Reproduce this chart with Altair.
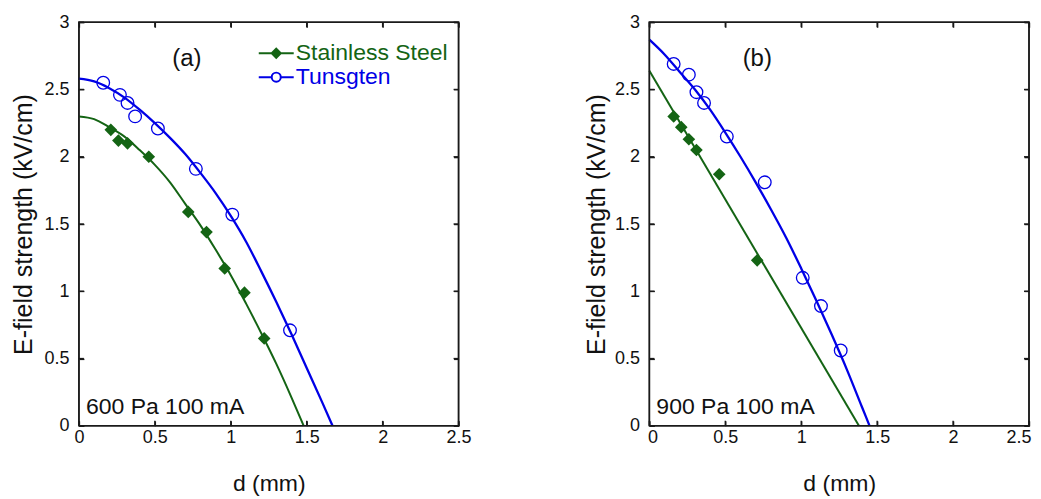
import altair as alt
import pandas as pd

series = ["Stainless Steel", "Tunsgten"]
x_ticks = [0, 0.5, 1, 1.5, 2, 2.5]
y_ticks = [0, 0.5, 1, 1.5, 2, 2.5, 3]

# ---- panel (a): 600 Pa 100 mA ----
a_ss_d = [0.21, 0.26, 0.32, 0.46, 0.72, 0.84, 0.96, 1.09, 1.22]
a_ss_e = [2.20, 2.12, 2.10, 2.00, 1.59, 1.44, 1.17, 0.99, 0.65]
a_w_d = [0.16, 0.27, 0.32, 0.37, 0.52, 0.77, 1.01, 1.39]
a_w_e = [2.55, 2.46, 2.40, 2.30, 2.21, 1.91, 1.57, 0.71]
a_ss_fit_d = [0, 0.1, 0.2, 0.3, 0.4, 0.5, 0.6, 0.7, 0.8, 0.9, 1.0, 1.1, 1.2, 1.3, 1.4, 1.48]
a_ss_fit_e = [2.30, 2.28, 2.22, 2.15, 2.05, 1.94, 1.81, 1.65, 1.49, 1.31, 1.12, 0.91, 0.69, 0.46, 0.21, 0.0]
a_w_fit_d = [0, 0.1, 0.2, 0.3, 0.4, 0.5, 0.6, 0.7, 0.8, 0.9, 1.0, 1.1, 1.2, 1.3, 1.4, 1.5, 1.6, 1.67]
a_w_fit_e = [2.58, 2.56, 2.51, 2.44, 2.35, 2.25, 2.14, 2.02, 1.88, 1.73, 1.56, 1.37, 1.15, 0.92, 0.68, 0.43, 0.18, 0.0]

# ---- panel (b): 900 Pa 100 mA ----
b_ss_d = [0.16, 0.21, 0.26, 0.31, 0.46, 0.71]
b_ss_e = [2.30, 2.22, 2.13, 2.05, 1.87, 1.23]
b_w_d = [0.16, 0.26, 0.31, 0.36, 0.51, 0.76, 1.01, 1.13, 1.26]
b_w_e = [2.69, 2.61, 2.48, 2.40, 2.15, 1.81, 1.10, 0.89, 0.56]
b_ss_fit_d = [0, 1.38]
b_ss_fit_e = [2.64, 0.0]
b_w_fit_d = [0, 0.1, 0.2, 0.3, 0.4, 0.5, 0.6, 0.7, 0.8, 0.9, 1.0, 1.1, 1.2, 1.3, 1.4, 1.45]
b_w_fit_e = [2.87, 2.76, 2.63, 2.50, 2.35, 2.18, 2.00, 1.81, 1.61, 1.40, 1.17, 0.93, 0.68, 0.42, 0.14, 0.0]

tags = ["(a)", "(b)"]
conditions = ["600 Pa 100 mA", "900 Pa 100 mA"]

GREEN = "#146414"
BLUE = "#0000e6"
FRAME = "#1a1a1a"
TXT = "#111111"
FONT = "Liberation Sans"
W, H = 380, 404

# legend symbols: line with marker
P_SS = "M-1,0H1M0,-0.26L0.26,0L0,0.26L-0.26,0Z"
P_W = "M-1,0H-0.26M0.26,0H1M-0.26,0A0.26,0.26,0,1,1,0.26,0A0.26,0.26,0,1,1,-0.26,0Z"


def df(d, e, s):
    return pd.DataFrame({"d": d, "E": e, "series": s})


def panel(ss_d, ss_e, w_d, w_e, ssf_d, ssf_e, wf_d, wf_e, tag, cond, ytp, xtp, second):
    xs = alt.Scale(domain=[0, 2.5], nice=False, zero=False)
    ys = alt.Scale(domain=[0, 3], nice=False, zero=False)
    tk = dict(offset=-5, ticks=True, tickSize=5, domain=False, grid=False,
              tickColor=FRAME, tickWidth=1.4, labelFont=FONT, titleFont=FONT)
    flush = dict(labelFlush=True, labelFlushOffset=2) if second else dict(labelFlush=False)
    x_bot = alt.X("d:Q", scale=xs, axis=alt.Axis(
        orient="bottom", values=x_ticks, format="~g", labelPadding=3,
        labelFontSize=18, labelColor=TXT, title="d (mm)", titleFontSize=23,
        titlePadding=xtp, titleFontWeight="normal", titleColor=TXT, **flush, **tk))
    y_left = alt.Y("E:Q", scale=ys, axis=alt.Axis(
        orient="left", values=y_ticks, format="~g", labelPadding=10,
        labelFontSize=18, labelColor=TXT, title="E-field strength (kV/cm)",
        titleFontSize=25, titlePadding=ytp, titleFontWeight="normal",
        titleColor=TXT, labelFlush=False, **tk))
    x_top = alt.X("d:Q", scale=xs, axis=alt.Axis(
        orient="top", values=x_ticks, labels=False, title=None, **tk))
    y_right = alt.Y("E:Q", scale=ys, axis=alt.Axis(
        orient="right", values=y_ticks, labels=False, title=None, **tk))
    xn = alt.X("d:Q", scale=xs, axis=None)
    yn = alt.Y("E:Q", scale=ys, axis=None)

    # plot frame drawn as a closed line through the axis-range corners
    fr = pd.DataFrame({
        "d": [x_ticks[0], x_ticks[-1], x_ticks[-1], x_ticks[0], x_ticks[0]],
        "E": [y_ticks[0], y_ticks[0], y_ticks[-1], y_ticks[-1], y_ticks[0]],
        "o": [0, 1, 2, 3, 4]})
    frame = alt.Chart(fr).mark_line(color=FRAME, strokeWidth=1.5).encode(
        x=xn, y=yn, order="o:Q")
    xt = pd.DataFrame({"v": x_ticks})
    yt = pd.DataFrame({"v": y_ticks})
    tb = alt.Chart(xt).mark_tick(orient="vertical", size=5, thickness=1.4, color=FRAME, opacity=1).encode(
        x=alt.X("v:Q", scale=xs, axis=None), y=alt.value(H - 2.5))
    tt = alt.Chart(xt).mark_tick(orient="vertical", size=5, thickness=1.4, color=FRAME, opacity=1).encode(
        x=alt.X("v:Q", scale=xs, axis=None), y=alt.value(2.5))
    tl = alt.Chart(yt).mark_tick(orient="horizontal", size=5, thickness=1.4, color=FRAME, opacity=1).encode(
        y=alt.Y("v:Q", scale=ys, axis=None), x=alt.value(2.5))
    tr = alt.Chart(yt).mark_tick(orient="horizontal", size=5, thickness=1.4, color=FRAME, opacity=1).encode(
        y=alt.Y("v:Q", scale=ys, axis=None), x=alt.value(W - 2.5))

    l_ss = alt.Chart(df(ssf_d, ssf_e, series[0])).mark_line(
        color=GREEN, strokeWidth=2, interpolate="monotone").encode(x=x_bot, y=y_left)
    l_w = alt.Chart(df(wf_d, wf_e, series[1])).mark_line(
        color=BLUE, strokeWidth=2.3, interpolate="monotone").encode(x=x_top, y=y_right)
    p_ss = alt.Chart(df(ss_d, ss_e, series[0])).mark_point(
        shape="diamond", filled=True, color=GREEN, size=160, opacity=1
    ).encode(x=xn, y=yn)
    p_w = alt.Chart(df(w_d, w_e, series[1])).mark_point(
        shape="circle", filled=False, color=BLUE, size=160, strokeWidth=1.3,
        opacity=1).encode(x=xn, y=yn)

    leg = alt.Legend(
        orient="none", legendX=179, legendY=19, title=None, padding=0,
        labelFontSize=23, labelFont=FONT, labelOffset=1, symbolSize=1225,
        symbolStrokeWidth=2, clipHeight=24, rowPadding=0,
        labelColor={"expr": "datum.label == 'Tunsgten' ? '%s' : '%s'" % (BLUE, GREEN)})
    allpts = pd.concat([df(ss_d, ss_e, series[0]), df(w_d, w_e, series[1])])
    lg = alt.Chart(allpts).transform_filter("false").mark_point(
        opacity=1, size=1225, strokeWidth=2).encode(
        x=xn, y=yn,
        shape=alt.Shape("series:N", scale=alt.Scale(domain=series, range=[P_SS, P_W]), legend=leg),
        stroke=alt.Stroke("series:N", scale=alt.Scale(domain=series, range=[GREEN, BLUE]), legend=leg),
        fill=alt.Fill("series:N", scale=alt.Scale(domain=series, range=[GREEN, "white"]), legend=leg),
    )
    t_tag = alt.Chart(pd.DataFrame({"t": [tag]})).mark_text(
        fontSize=24, font=FONT, color=TXT, align="center", baseline="middle"
    ).encode(text="t:N", x=alt.value(108), y=alt.value(37))
    t_cond = alt.Chart(pd.DataFrame({"t": [cond]})).mark_text(
        fontSize=23, font=FONT, color=TXT, align="left", baseline="middle"
    ).encode(text="t:N", x=alt.value(7), y=alt.value(385))
    return alt.layer(l_ss, l_w, frame, tb, tt, tl, tr, p_ss, p_w, lg, t_tag, t_cond
                     ).properties(width=W, height=H)


pa = panel(a_ss_d, a_ss_e, a_w_d, a_w_e, a_ss_fit_d, a_ss_fit_e, a_w_fit_d, a_w_fit_e,
           tags[0], conditions[0], 7, 26, False)
pb = panel(b_ss_d, b_ss_e, b_w_d, b_w_e, b_ss_fit_d, b_ss_fit_e, b_w_fit_d, b_w_fit_e,
           tags[1], conditions[1], 5, 26, True)

chart = alt.hconcat(pa, pb, spacing=111).properties(
    padding={"left": 3, "top": 4, "right": 0, "bottom": 0}
).configure_view(stroke=FRAME, strokeWidth=1.5)

chart.save("out.html", embed_options={"renderer": "svg", "actions": False})
